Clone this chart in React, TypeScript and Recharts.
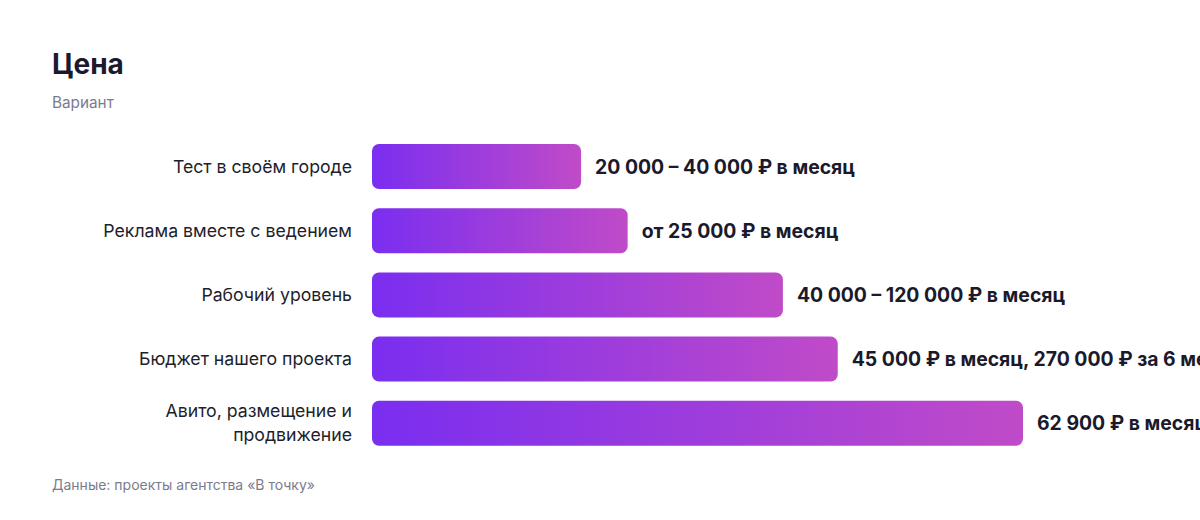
import React from "react";
import { BarChart, Bar, XAxis, YAxis, LabelList } from "recharts";

const categories = [
  "Тест в своём городе",
  "Реклама вместе с ведением",
  "Рабочий уровень",
  "Бюджет нашего проекта",
  "Авито, размещение и продвижение",
];

const values = [20200, 24700, 39700, 45000, 62900];

const priceLabels = [
  "20 000 – 40 000 ₽ в месяц",
  "от 25 000 ₽ в месяц",
  "40 000 – 120 000 ₽ в месяц",
  "45 000 ₽ в месяц, 270 000 ₽ за 6 месяцев",
  "62 900 ₽ в месяц",
];

const data = categories.map((name, i) => ({
  name,
  value: values[i],
  label: priceLabels[i],
}));

const FONT = "Inter, 'Noto Sans', sans-serif";

// greedy wrap by characters, labels are short enough for this
const wrap = (s: string, max: number) => {
  const lines: string[] = [];
  let cur = "";
  s.split(" ").forEach((w) => {
    const next = cur ? cur + " " + w : w;
    if (next.length > max && cur) {
      lines.push(cur);
      cur = w;
    } else cur = next;
  });
  if (cur) lines.push(cur);
  return lines;
};

const CategoryTick = (props: any) => {
  const { x, y, payload } = props;
  const lines = wrap(payload.value, 26);
  const lh = 24;
  const y0 = y - ((lines.length - 1) * lh) / 2 + 6.5;
  return (
    <text
      textAnchor="end"
      fontSize={17.7}
      fontFamily={FONT}
      fill="#1e1e2c"
    >
      {lines.map((l, i) => (
        <tspan key={i} x={372 - 20} y={y0 + i * lh}>
          {l}
        </tspan>
      ))}
    </text>
  );
};

const PriceLabel = (props: any) => {
  const { x, y, width, height, index } = props;
  return (
    <text
      x={x + width + 14}
      y={y + height / 2 + 7}
      fontSize={19.4}
      fontWeight={700}
      fontFamily={FONT}
      fill="#1a1a2b"
    >
      {priceLabels[index]}
    </text>
  );
};

export default function App() {
  return (
    <div
      style={{
        position: "absolute",
        left: 0,
        top: 0,
        width: 1200,
        height: 520,
        overflow: "hidden",
        background: "#ffffff",
        fontFamily: FONT,
      }}
    >
      <div
        style={{
          position: "absolute",
          left: 52,
          top: 50,
          fontSize: 28,
          lineHeight: "28px",
          fontWeight: 700,
          color: "#1a1a2e",
        }}
      >
        Цена
      </div>
      <div
        style={{
          position: "absolute",
          left: 52,
          top: 95,
          fontSize: 15.3,
          lineHeight: "15px",
          color: "#7b7b8e",
        }}
      >
        Вариант
      </div>
      <div style={{ position: "absolute", left: 0, top: 0 }}>
        <BarChart
          width={1200}
          height={470}
          data={data}
          layout="vertical"
          margin={{ top: 134, right: 0, bottom: 15, left: 52 }}
        >
          <defs>
            <linearGradient id="barGrad" x1="0" y1="0" x2="1" y2="0">
              <stop offset="0%" stopColor="#7a2ef0" />
              <stop offset="100%" stopColor="#c04bc8" />
            </linearGradient>
          </defs>
          <XAxis type="number" domain={[0, 80000]} hide />
          <YAxis
            type="category"
            dataKey="name"
            width={320}
            axisLine={false}
            tickLine={false}
            tick={<CategoryTick />}
            interval={0}
          />
          <Bar
            dataKey="value"
            barSize={45}
            fill="url(#barGrad)"
            radius={[7, 7, 7, 7]}
            isAnimationActive={false}
          >
            <LabelList dataKey="label" content={<PriceLabel />} />
          </Bar>
        </BarChart>
      </div>
      <div
        style={{
          position: "absolute",
          left: 52,
          top: 478,
          fontSize: 14,
          lineHeight: "14px",
          color: "#7b7b8e",
        }}
      >
        Данные: проекты агентства «В точку»
      </div>
    </div>
  );
}
